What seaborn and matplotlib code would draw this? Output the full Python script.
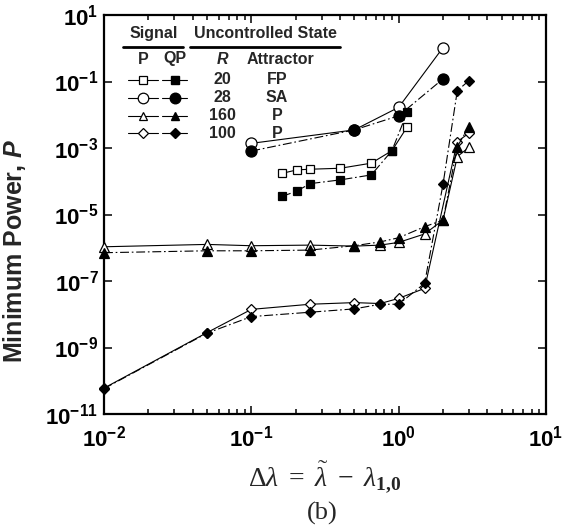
import numpy as np
import matplotlib
matplotlib.use('Agg')
import matplotlib.pyplot as plt
from matplotlib.lines import Line2D
from matplotlib.ticker import LogLocator, FixedLocator, FuncFormatter, NullFormatter, NullLocator
import seaborn as sns

# ------------------------------------------------------------
# data (minimum power vs detuning)
# ------------------------------------------------------------
# R = 20, fixed point
sq_x = [0.162, 0.204, 0.251, 0.402, 0.652, 0.90, 1.146]
sq_p_y = [1.73e-4, 2.2e-4, 2.3e-4, 2.46e-4, 3.5e-4, 8.3e-4, 4.4e-3]
sq_qp_y = [3.5e-5, 5.1e-5, 8.5e-5, 1.1e-4, 1.55e-4, 8.3e-4, 1.23e-2]

# R = 28, strange attractor
ci_x = [0.1, 0.5, 1.0, 2.0]
ci_p_y = [1.38e-3, 3.5e-3, 1.67e-2, 1.05]
ci_qp_y = [8.1e-4, 3.5e-3, 9.3e-3, 0.12]

# R = 160, periodic
tri_x = [0.01, 0.05, 0.1, 0.25, 0.5, 0.75, 1.0, 1.5, 2.0, 2.5, 3.0]
tri_p_y = [1.07e-6, 1.26e-6, 1.15e-6, 1.2e-6, 1.12e-6, 1.2e-6, 1.45e-6, 2.6e-6, 6.8e-6, 5.5e-4, 1.05e-3]
tri_qp_y = [7.1e-7, 8.1e-7, 8.1e-7, 8.5e-7, 1.15e-6, 1.5e-6, 2.0e-6, 4.3e-6, 6.8e-6, 1.1e-3, 4.4e-3]

# R = 100, periodic
dia_p_x = [0.01, 0.05, 0.1, 0.25, 0.5, 0.75, 1.0, 1.5, 2.5, 3.0]
dia_p_y = [6e-11, 2.8e-9, 1.4e-8, 2.0e-8, 2.24e-8, 2.1e-8, 3.0e-8, 6.0e-8, 1.55e-3, 2.8e-3]
dia_qp_x = [0.01, 0.05, 0.1, 0.25, 0.5, 0.75, 1.0, 1.5, 2.0, 2.5, 3.0]
dia_qp_y = [5.8e-11, 2.7e-9, 8.5e-9, 1.15e-8, 1.45e-8, 2.0e-8, 2.0e-8, 8.5e-8, 8.1e-5, 0.053, 0.106]

# legend table
leg_R = ['20', '28', '160', '100']
leg_attr = ['FP', 'SA', 'P', 'P']
leg_markers = ['s', 'o', '^', 'D']

y_major = [1e1, 1e-1, 1e-3, 1e-5, 1e-7, 1e-9, 1e-11]

# ------------------------------------------------------------
sns.set_theme(style='ticks')
plt.rcParams['font.family'] = ['Liberation Sans', 'DejaVu Sans']
plt.rcParams['mathtext.fontset'] = 'custom'
plt.rcParams['mathtext.rm'] = 'Liberation Serif'
plt.rcParams['mathtext.it'] = 'Liberation Serif:italic'
plt.rcParams['mathtext.bf'] = 'Liberation Serif:bold'
plt.rcParams['mathtext.sf'] = 'Liberation Sans:bold'
plt.rcParams['mathtext.cal'] = 'Liberation Sans:bold:italic'

W, H = 575, 527
fig = plt.figure(figsize=(W / 100, H / 100), dpi=100)
ax = fig.add_axes([104 / W, 1 - 414 / H, 442 / W, 399 / H])

LW = 0.8
DASHDOT = (0, (8, 2.5, 1.5, 2.5))
MS = {'s': 5.8, 'o': 8.0, '^': 6.8, 'D': 5.2}


def draw(x, y, marker, filled):
    sns.lineplot(
        x=x, y=y, ax=ax, sort=False, estimator=None, errorbar=None,
        color='black', linewidth=LW,
        linestyle=DASHDOT if filled else '-',
        marker=marker, markersize=MS[marker],
        markerfacecolor='black' if filled else 'white',
        markeredgecolor='black', markeredgewidth=0.9,
        clip_on=False, zorder=3,
    )


# periodic (open, solid) then quasi-periodic (filled, dash-dot) on top
draw(sq_x, sq_p_y, 's', False)
draw(ci_x, ci_p_y, 'o', False)
draw(tri_x, tri_p_y, '^', False)
draw(dia_p_x, dia_p_y, 'D', False)
draw(sq_x, sq_qp_y, 's', True)
draw(ci_x, ci_qp_y, 'o', True)
draw(tri_x, tri_qp_y, '^', True)
draw(dia_qp_x, dia_qp_y, 'D', True)

ax.set_xscale('log')
ax.set_yscale('log')
ax.set_xlim(1e-2, 1e1)
ax.set_ylim(1e-11, 1e1)

fmt = FuncFormatter(lambda v, pos: r'$\mathsf{10^{%d}}$' % int(round(np.log10(v))))
ax.xaxis.set_major_locator(LogLocator(base=10, numticks=10))
ax.xaxis.set_minor_locator(LogLocator(base=10, subs=np.arange(2, 10), numticks=20))
ax.xaxis.set_major_formatter(fmt)
ax.xaxis.set_minor_formatter(NullFormatter())
ax.yaxis.set_major_locator(FixedLocator(y_major))
ax.yaxis.set_minor_locator(NullLocator())
ax.yaxis.set_major_formatter(fmt)

ax.tick_params(which='both', direction='in', top=True, right=True, width=1.1, colors='black')
ax.tick_params(which='major', length=6, labelsize=16)
ax.tick_params(which='minor', length=3.5)
ax.tick_params(axis='x', which='major', pad=8)
ax.tick_params(axis='y', which='major', pad=4)
for s in ax.spines.values():
    s.set_linewidth(1.6)
    s.set_color('black')

ax.set_ylabel(r'Minimum Power, $\mathcal{P}$', fontsize=18, fontweight='bold')
ax.yaxis.set_label_coords(-0.173, 0.41)
ax.set_xlabel(r'$\Delta\lambda\ =\ \tilde{\lambda}\ -\ \lambda_{\mathbf{1{,}0}}$', fontsize=20, labelpad=6)
fig.text(322 / W, 1 - 513 / H, '(b)', fontsize=19, family='Liberation Serif',
         ha='center', va='center')

# ------------------------------------------------------------
# legend table drawn in figure coordinates
# ------------------------------------------------------------
def fx(px):
    return px / W


def fy(py):
    return 1 - py / H


tkw = dict(fontsize=11.5, fontweight='bold', ha='center', va='center')
fig.text(fx(154), fy(34), 'Signal', **tkw)
fig.text(fx(265), fy(34), 'Uncontrolled State', **tkw)
fig.add_artist(Line2D([fx(123), fx(183)], [fy(46.5), fy(46.5)], color='black', lw=2.0,
                      transform=fig.transFigure))
fig.add_artist(Line2D([fx(190), fx(340)], [fy(46.5), fy(46.5)], color='black', lw=2.0,
                      transform=fig.transFigure))
fig.text(fx(143), fy(59), 'P', **tkw)
fig.text(fx(175), fy(59), 'QP', **tkw)
fig.text(fx(222), fy(59), 'R', fontstyle='italic', **tkw)
fig.text(fx(280), fy(59), 'Attractor', **tkw)

row_y = [79.5, 98, 115.7, 133.3]
for ry, m, r, a in zip(row_y, leg_markers, leg_R, leg_attr):
    fig.add_artist(Line2D([fx(128), fx(158)], [fy(ry), fy(ry)], color='black', lw=LW,
                          transform=fig.transFigure))
    fig.add_artist(Line2D([fx(143)], [fy(ry)], color='black', lw=0, marker=m,
                          markersize=MS[m] * 0.95, markerfacecolor='white',
                          markeredgecolor='black', markeredgewidth=0.9,
                          transform=fig.transFigure))
    fig.add_artist(Line2D([fx(162), fx(187)], [fy(ry), fy(ry)], color='black', lw=LW,
                          transform=fig.transFigure))
    fig.add_artist(Line2D([fx(175)], [fy(ry)], color='black', lw=0, marker=m,
                          markersize=MS[m] * 0.95, markerfacecolor='black',
                          markeredgecolor='black', transform=fig.transFigure))
    fig.text(fx(222), fy(ry), r, **tkw)
    fig.text(fx(277), fy(ry), a, **tkw)

fig.savefig('out.png', dpi=100)
